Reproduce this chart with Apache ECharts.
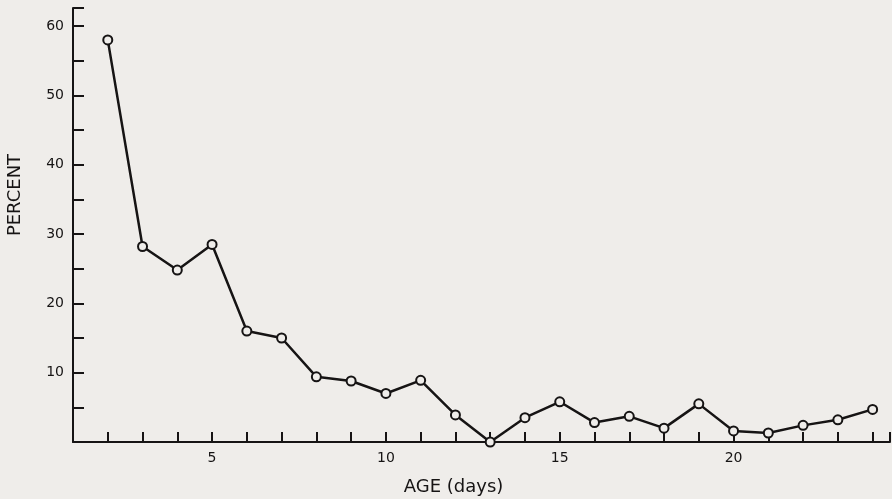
<!DOCTYPE html>
<html>
<head>
<meta charset="utf-8">
<script src="https://cdn.jsdelivr.net/npm/echarts@6/dist/echarts.min.js"></script>
<style>
  html, body { margin: 0; padding: 0; background: #efedea; }
  #chart-div { width: 892px; height: 499px; }
</style>
</head>
<body>
<div id="chart-div"></div>
<script>
// ikä päivinä ja prosenttiosuus
const ages = [2, 3, 4, 5, 6, 7, 8, 9, 10, 11, 12, 13, 14, 15, 16, 17, 18, 19, 20, 21, 22, 23, 24]
const percents = [58.0, 28.2, 24.8, 28.5, 16.0, 15.0, 9.4, 8.8, 7.0, 8.9, 3.9, 0, 3.5, 5.8, 2.8, 3.7, 2.0, 5.5, 1.6, 1.3, 2.4, 3.2, 4.7]
const xTickLabels = [5, 10, 15, 20]
const yTickLabels = [10, 20, 30, 40, 50, 60]

const ink = '#161414'
const font = 'DejaVu Sans'

let myChart = echarts.init(document.getElementById('chart-div'))

const option = {
    backgroundColor: '#efedea',
    animation: false,
    grid: { left: 73, right: 2, top: 8, bottom: 57, outerBoundsMode: 'none' },
    xAxis: {
        type: 'value',
        min: 1,
        max: 24.5,
        interval: 1,
        name: 'AGE (days)',
        nameLocation: 'middle',
        nameGap: 36,
        nameTextStyle: { color: ink, fontSize: 18, fontFamily: font, padding: [0, 56, 0, 0] },
        axisLine: { lineStyle: { color: ink, width: 2 } },
        axisTick: { inside: true, length: 10, lineStyle: { color: ink, width: 2 } },
        axisLabel: {
            color: ink, fontSize: 14, fontFamily: font, margin: 9,
            formatter: v => xTickLabels.includes(v) ? String(v) : ''
        },
        splitLine: { show: false }
    },
    yAxis: {
        type: 'value',
        min: 0,
        max: 62.6,
        interval: 5,
        name: 'PERCENT',
        nameLocation: 'middle',
        nameGap: 49,
        nameTextStyle: { color: ink, fontSize: 18, fontFamily: font, padding: [0, 0, 0, 60] },
        axisLine: { show: true, lineStyle: { color: ink, width: 2 } },
        axisTick: { inside: true, length: 11, lineStyle: { color: ink, width: 2 } },
        axisLabel: {
            color: ink, fontSize: 14, fontFamily: font, margin: 9,
            formatter: v => yTickLabels.includes(v) ? String(v) : ''
        },
        splitLine: { show: false }
    },
    series: [{
        type: 'line',
        data: ages.map((a, i) => [a, percents[i]]),
        symbol: 'circle',
        symbolSize: 9,
        lineStyle: { color: ink, width: 2.5 },
        itemStyle: { color: '#efedea', borderColor: ink, borderWidth: 2 }
    }]
}

myChart.setOption(option)
</script>
</body>
</html>
